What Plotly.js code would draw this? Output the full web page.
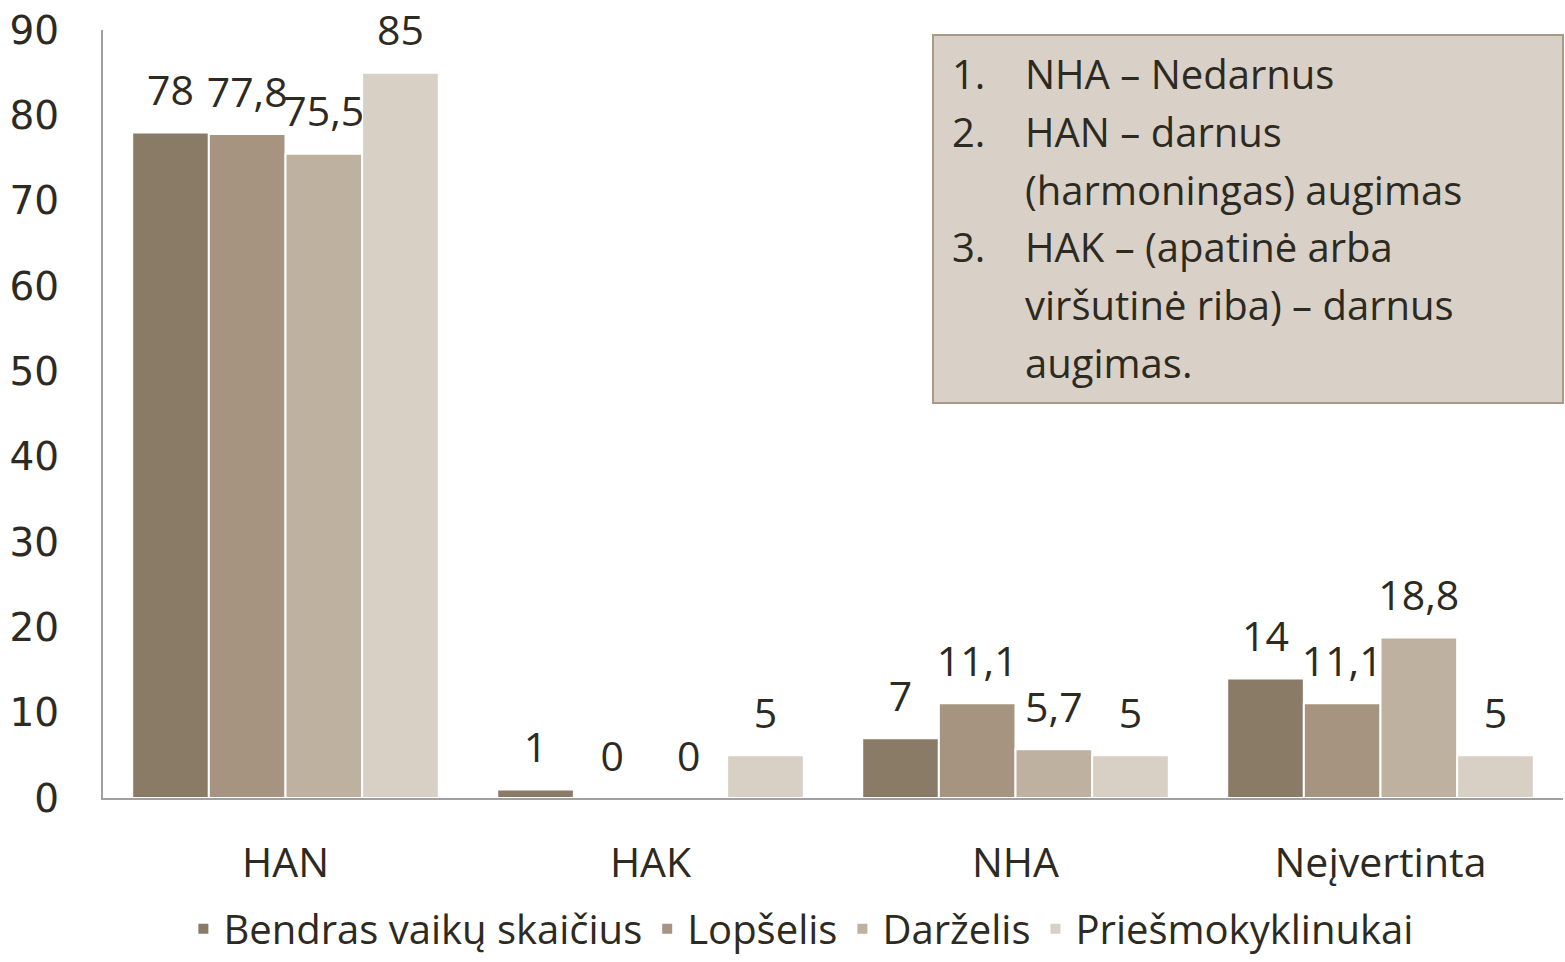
<!DOCTYPE html>
<html>
<head>
<meta charset="utf-8">
<script src="https://cdn.plot.ly/plotly-3.0.1.min.js"></script>
<style>
  html, body { margin: 0; padding: 0; background: #fff; }
  #chart { width: 1565px; height: 962px; }
</style>
</head>
<body>
<div id="chart"></div>
<script>
// ===== data =====
const categories = ["HAN", "HAK", "NHA", "Neįvertinta"];
const seriesNames = ["Bendras vaikų skaičius", "Lopšelis", "Darželis", "Priešmokyklinukai"];
const bendras = [78, 1, 7, 14];
const lopselis = [77.8, 0, 11.1, 11.1];
const darzelis = [75.5, 0, 5.7, 18.8];
const priesmok = [85, 5, 5, 5];
const noteNumbers = ["1.", "2.", "", "3.", "", ""];
const noteLines = [
  "NHA – Nedarnus",
  "HAN – darnus",
  "(harmoningas) augimas",
  "HAK – (apatinė arba",
  "viršutinė riba) – darnus",
  "augimas."
];

const COLORS = ["#8a7b67", "#a69481", "#bfb1a0", "#d8cfc5"];
const TXT = "#2d2a22";
const FONT = "'Open Sans', sans-serif";

// ===== traces =====
const allSeries = [bendras, lopselis, darzelis, priesmok];
const fmt = v => String(v).replace(".", ",");

const bars = allSeries.map((vals, i) => ({
  type: "bar",
  name: seriesNames[i],
  x: categories,
  y: vals,
  marker: { color: COLORS[i], line: { color: "#ffffff", width: 2 } },
  hoverinfo: "skip"
}));

// подписи значений: невидимые маркеры дают отступ над столбцом
const labels = allSeries.map((vals, i) => ({
  type: "scatter",
  mode: "markers+text",
  x: categories,
  y: vals,
  text: vals.map(fmt),
  textposition: "top center",
  textfont: { family: FONT, size: 41, color: TXT },
  marker: { size: 26, opacity: 0 },
  cliponaxis: false,
  showlegend: false,
  hoverinfo: "skip"
}));

// ===== note box =====
const annotations = [];
const lineY0 = 74, lineStep = 57.6;
noteLines.forEach((t, k) => {
  const yPix = lineY0 + k * lineStep;
  annotations.push({
    xref: "paper", yref: "paper",
    x: (1023 - 103) / 1460, y: (798 - yPix) / 768,
    xanchor: "left", yanchor: "middle",
    text: t, showarrow: false,
    font: { family: FONT, size: 40, color: TXT }
  });
  if (noteNumbers[k]) {
    annotations.push({
      xref: "paper", yref: "paper",
      x: (950 - 103) / 1460, y: (798 - yPix) / 768,
      xanchor: "left", yanchor: "middle",
      text: noteNumbers[k], showarrow: false,
      font: { family: FONT, size: 40, color: TXT }
    });
  }
});

const layout = {
  width: 1565, height: 962,
  margin: { l: 103, r: 2, t: 30, b: 164, autoexpand: false },
  paper_bgcolor: "#ffffff",
  plot_bgcolor: "#ffffff",
  barmode: "group",
  bargap: 0.16,
  bargroupgap: 0,
  scattermode: "group",
  scattergap: 0.16,
  font: { family: FONT, color: TXT },
  showlegend: true,
  legend: {
    orientation: "h",
    x: 0.478, xanchor: "center",
    y: -0.128, yanchor: "top",
    font: { family: FONT, size: 40, color: TXT },
    itemwidth: 30,
    traceorder: "normal"
  },
  xaxis: {
    showgrid: false,
    showline: true, linecolor: "#a0a0a0", linewidth: 2,
    ticks: "", ticklabelstandoff: 28,
    tickfont: { family: FONT, size: 41, color: TXT }
  },
  yaxis: {
    range: [0, 90],
    dtick: 10,
    showgrid: false,
    zeroline: false,
    showline: true, linecolor: "#a0a0a0", linewidth: 2,
    ticks: "", ticklabelstandoff: 34,
    tickfont: { family: "'DejaVu Sans', sans-serif", size: 39, color: TXT }
  },
  shapes: [{
    type: "rect", xref: "paper", yref: "paper",
    x0: (933 - 103) / 1460, x1: 1.0,
    y0: (798 - 403) / 768, y1: (798 - 35) / 768,
    fillcolor: "#d9d1c7",
    line: { color: "#a89a87", width: 2 },
    layer: "above"
  }],
  annotations: annotations
};

Plotly.newPlot("chart", bars.concat(labels), layout, { displayModeBar: false, responsive: false });
</script>
</body>
</html>
